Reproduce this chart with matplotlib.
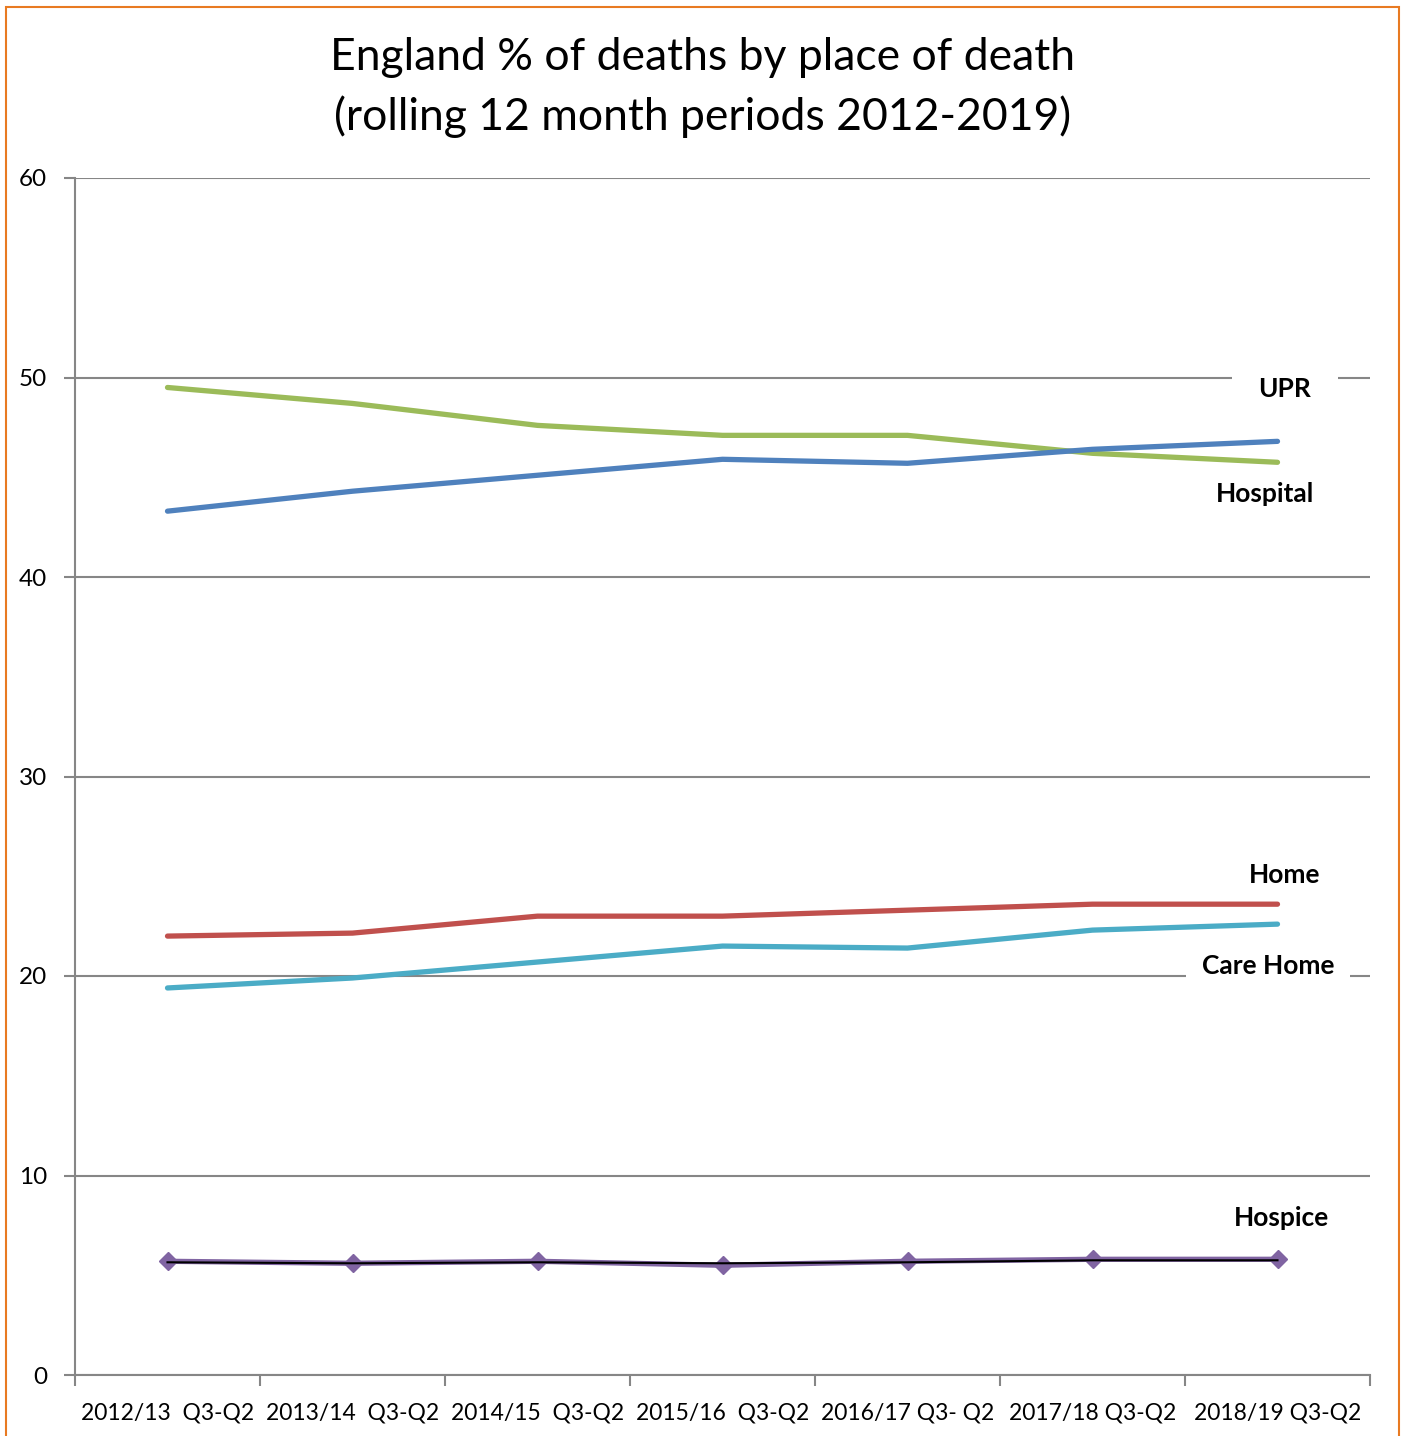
import matplotlib.pyplot as plt
import numpy as np

plt.rcParams['font.family'] = ['Lato', 'DejaVu Sans']

periods = ['2012/13  Q3-Q2', '2013/14  Q3-Q2', '2014/15  Q3-Q2', '2015/16  Q3-Q2',
           '2016/17 Q3- Q2', '2017/18 Q3-Q2', '2018/19 Q3-Q2']
upr = [49.5, 48.7, 47.6, 47.1, 47.1, 46.2, 45.75]
hospital = [43.3, 44.3, 45.1, 45.9, 45.7, 46.4, 46.8]
home = [22.0, 22.15, 23.0, 23.0, 23.3, 23.6, 23.6]
care_home = [19.4, 19.9, 20.7, 21.5, 21.4, 22.3, 22.6]
hospice = [5.7, 5.6, 5.7, 5.5, 5.7, 5.8, 5.8]
hospice_ref = [5.65, 5.6, 5.65, 5.6, 5.65, 5.75, 5.75]

x = np.arange(len(periods))
grey = '#868686'

fig = plt.figure(figsize=(14.03, 14.36), dpi=100)
ax = fig.add_axes([75 / 1403, 1 - 1375 / 1436, 1295 / 1403, 1197 / 1436])

ax.plot(x, upr, color='#9bbb59', lw=3.8, solid_capstyle='round', zorder=3)
ax.plot(x, hospital, color='#4f81bd', lw=3.8, solid_capstyle='round', zorder=3)
ax.plot(x, home, color='#c0504d', lw=3.8, solid_capstyle='round', zorder=3)
ax.plot(x, care_home, color='#4bacc6', lw=3.8, solid_capstyle='round', zorder=3)
ax.plot(x, hospice, color='#8064a2', lw=3.8, marker='D', ms=9, zorder=3)
ax.plot(x, hospice_ref, color='black', lw=1.5, zorder=4)

ax.set_xlim(-0.5, len(periods) - 0.5)
ax.set_ylim(0, 60)
ax.set_yticks(range(0, 61, 10))
ax.yaxis.grid(True, color=grey, lw=1.5)
ax.set_axisbelow(True)

ax.set_xticks(np.arange(-0.5, len(periods), 1))
ax.set_xticklabels([])
ax.set_xticks(x, minor=True)
ax.set_xticklabels(periods, minor=True)
ax.tick_params(axis='x', which='minor', length=0, pad=20, labelsize=16.5)
ax.tick_params(axis='x', which='major', length=8, width=1.5, color=grey)
ax.tick_params(axis='y', length=8, width=1.5, color=grey, labelsize=17.5, pad=12)

for s in ['top', 'right']:
    ax.spines[s].set_visible(False)
for s in ['left', 'bottom']:
    ax.spines[s].set_color(grey)
    ax.spines[s].set_linewidth(1.5)

lab = dict(ha='center', va='center', fontsize=19, fontweight='bold')
ax.text(6.04, 49.4, 'UPR', **lab,
        bbox=dict(facecolor='white', edgecolor='none', boxstyle='square,pad=1.0'))
ax.text(5.93, 44.16, 'Hospital', **lab)
ax.text(6.04, 25.06, 'Home', **lab)
ax.text(5.95, 20.5, 'Care Home', **lab,
        bbox=dict(facecolor='white', edgecolor='none', boxstyle='square,pad=0.6'))
ax.text(6.02, 7.87, 'Hospice', **lab)

fig.text(0.501, 1 - 58 / 1436, 'England % of deaths by place of death',
         ha='center', va='center', fontsize=32)
fig.text(0.501, 1 - 117 / 1436, '(rolling 12 month periods 2012-2019)',
         ha='center', va='center', fontsize=32)

border = plt.Rectangle((6 / 1403, -0.01), 1393 / 1403, 1 - 7 / 1436 + 0.01,
                       transform=fig.transFigure, fill=False, edgecolor='#e87a22', lw=1.5)
fig.patches.append(border)

fig.savefig('out.png', dpi=100)
